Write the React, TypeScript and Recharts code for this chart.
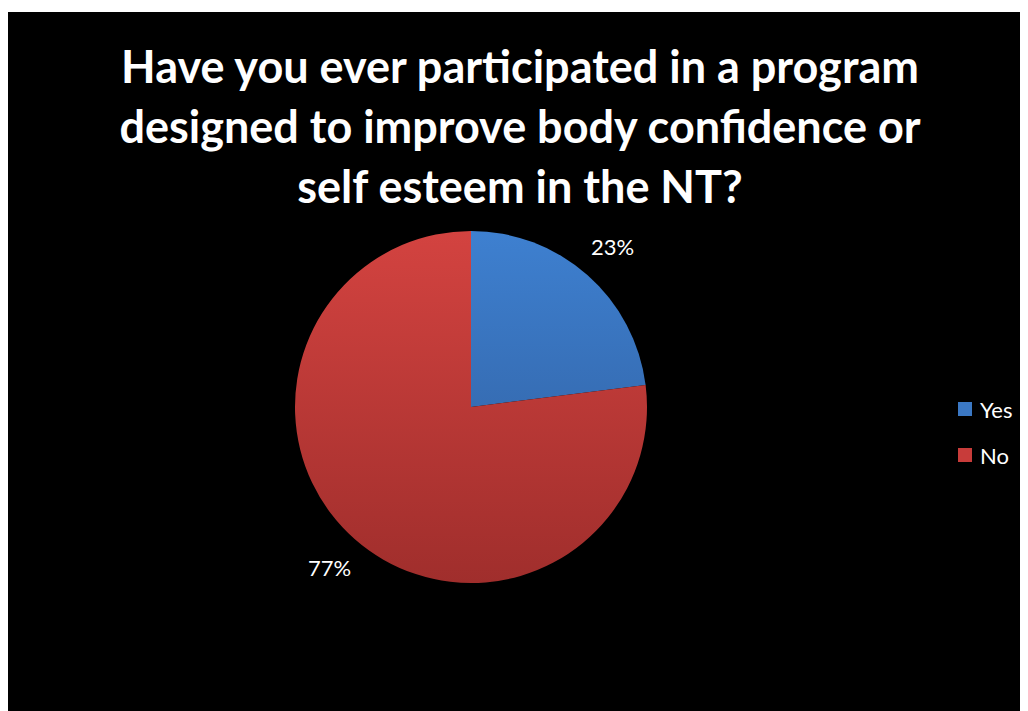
import { Cell, Legend, Pie, PieChart } from 'recharts'

const CATEGORIES = ['Yes', 'No']
const VALUES = [23, 77]
const TITLE_LINES = [
  'Have you ever participated in a program',
  'designed to improve body confidence or',
  'self esteem in the NT?',
]

const data = CATEGORIES.map((name, i) => ({ name, value: VALUES[i] }))

const FILLS = ['url(#gradYes)', 'url(#gradNo)']
const SWATCH = ['#3b78c4', '#c83c3a']

const RADIAN = Math.PI / 180
const FONT = 'Lato, "Open Sans", sans-serif'

function PercentLabel(props: any) {
  const { cx, cy, midAngle, outerRadius, percent } = props
  const r = outerRadius + 38
  const x = cx + r * Math.cos(-midAngle * RADIAN)
  const y = cy + r * Math.sin(-midAngle * RADIAN)
  return (
    <text x={x} y={y} fill="#ffffff" fontSize={22} fontFamily={FONT} textAnchor="middle" dominantBaseline="central">
      {`${Math.round(percent * 100)}%`}
    </text>
  )
}

// legend drawn in category order (recharts hands the payload back reversed here)
function LegendBox({ payload }: any) {
  const items = [...(payload ?? [])].sort(
    (a: any, b: any) => CATEGORIES.indexOf(a.value) - CATEGORIES.indexOf(b.value),
  )
  return (
    <div style={{ fontFamily: FONT, fontSize: 22, color: '#fff' }}>
      {items.map((p: any) => (
        <div key={p.value} style={{ display: 'flex', alignItems: 'center', height: 46 }}>
          <span
            style={{
              width: 14,
              height: 14,
              background: SWATCH[CATEGORIES.indexOf(p.value)],
              marginRight: 8,
              display: 'inline-block',
            }}
          />
          <span>{p.value}</span>
        </div>
      ))}
    </div>
  )
}

export default function App() {
  return (
    <div style={{ marginTop: 4, width: 1020, height: 699, background: '#000', position: 'relative' }}>
      <div
        style={{
          position: 'absolute',
          left: 0,
          top: 24,
          width: 1024,
          textAlign: 'center',
          color: '#fff',
          fontFamily: FONT,
          fontWeight: 700,
          fontSize: 45,
          lineHeight: '60px',
        }}
      >
        {TITLE_LINES.map((t) => (
          <div key={t}>{t}</div>
        ))}
      </div>
      <PieChart width={1020} height={699} margin={{ top: 0, right: 0, bottom: 0, left: 0 }}>
        <defs>
          <linearGradient id="gradYes" x1="0" y1="219" x2="0" y2="571" gradientUnits="userSpaceOnUse">
            <stop offset="0" stopColor="#3e80d0" />
            <stop offset="1" stopColor="#2e5a98" />
          </linearGradient>
          <linearGradient id="gradNo" x1="0" y1="219" x2="0" y2="571" gradientUnits="userSpaceOnUse">
            <stop offset="0" stopColor="#d34340" />
            <stop offset="1" stopColor="#a02e2c" />
          </linearGradient>
        </defs>
        <Pie
          data={data}
          dataKey="value"
          nameKey="name"
          cx={463}
          cy={395}
          outerRadius={176}
          startAngle={90}
          endAngle={-270}
          stroke="none"
          label={<PercentLabel />}
          labelLine={false}
          isAnimationActive={false}
        >
          {data.map((d, i) => (
            <Cell key={d.name} fill={FILLS[i]} />
          ))}
        </Pie>
        <Legend
          layout="vertical"
          align="right"
          verticalAlign="top"
          content={<LegendBox />}
          wrapperStyle={{ left: 950, top: 374, width: 70 }}
        />
      </PieChart>
    </div>
  )
}
